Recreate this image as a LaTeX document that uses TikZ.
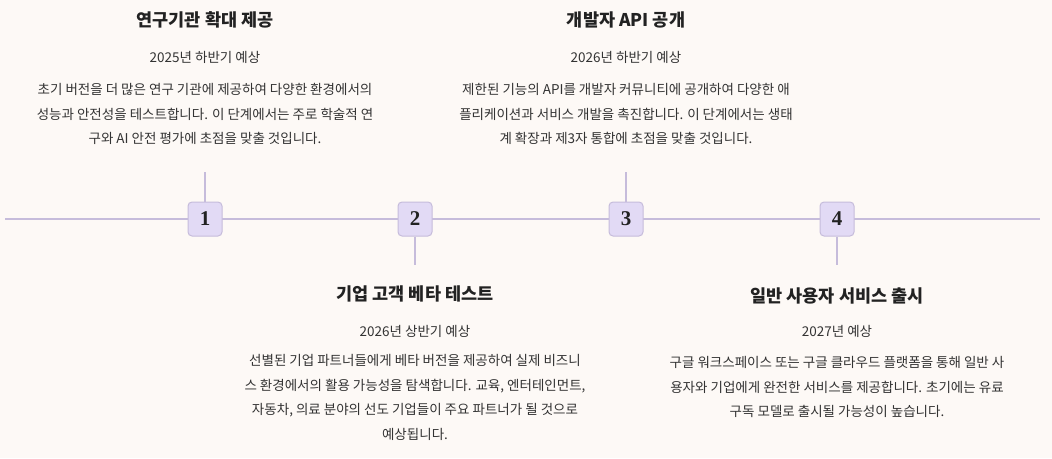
\documentclass[tikz,border=0pt]{standalone}
\usepackage{fontspec}
\setmainfont{Noto Sans CJK KR}
\newfontfamily\numfont{Liberation Serif}
\definecolor{bg}{HTML}{FDF9F6}
\definecolor{ln}{HTML}{C6BCDB}
\definecolor{bx}{HTML}{E2DAF5}
\definecolor{txt}{HTML}{222222}
\definecolor{sub}{HTML}{333333}
\begin{document}
\begin{tikzpicture}[x=1pt,y=-1pt,
  numbox/.style={draw=ln,fill=bx,rounded corners=4pt,minimum width=34pt,minimum height=34pt,line width=1pt,font=\numfont\bfseries\fontsize{21}{21}\selectfont,text=txt,inner sep=0pt},
  ttl/.style={font=\bfseries\fontsize{17.5}{20}\selectfont,text=txt,anchor=center},
  dt/.style={font=\fontsize{13.5}{16}\selectfont,text=sub,anchor=center},
  body/.style={font=\fontsize{13.5}{24.5}\selectfont,text=sub,align=center,anchor=north},
  lnk/.style={draw=ln,line width=1.5pt}]
\fill[bg] (0,0) rectangle (1052,458);
\useasboundingbox (0,0) rectangle (1052,458);
\coordinate (L) at (5,219);
\coordinate (R) at (1040,219);
\draw[lnk] (L) -- (R);
\node[numbox] (b1) at (205,219) {1};
\node[numbox] (b2) at (415,219) {2};
\node[numbox] (b3) at (626,219) {3};
\node[numbox] (b4) at (837,219) {4};
\coordinate (t1) at (205,172);
\coordinate (t2) at (415,265);
\coordinate (t3) at (626,172);
\coordinate (t4) at (837,265);
\draw[lnk] (b1.north) -- (t1);
\draw[lnk] (b2.south) -- (t2);
\draw[lnk] (b3.north) -- (t3);
\draw[lnk] (b4.south) -- (t4);
% item 1
\node[ttl] (h1) at (205,20) {연구기관 확대 제공};
\node[dt] (d1) at (205,57) {2025년 하반기 예상};
\node[body] (x1) at (205,80) {초기 버전을 더 많은 연구 기관에 제공하여 다양한 환경에서의\\성능과 안전성을 테스트합니다. 이 단계에서는 주로 학술적 연\\구와 AI 안전 평가에 초점을 맞출 것입니다.};
% item 3
\node[ttl] (h3) at (626,20) {개발자 API 공개};
\node[dt] (d3) at (626,57) {2026년 하반기 예상};
\node[body] (x3) at (626,80) {제한된 기능의 API를 개발자 커뮤니티에 공개하여 다양한 애\\플리케이션과 서비스 개발을 촉진합니다. 이 단계에서는 생태\\계 확장과 제3자 통합에 초점을 맞출 것입니다.};
% item 2
\node[ttl] (h2) at (415,294) {기업 고객 베타 테스트};
\node[dt] (d2) at (415,331) {2026년 상반기 예상};
\node[body] (x2) at (415,351) {선별된 기업 파트너들에게 베타 버전을 제공하여 실제 비즈니\\스 환경에서의 활용 가능성을 탐색합니다. 교육, 엔터테인먼트,\\자동차, 의료 분야의 선도 기업들이 주요 파트너가 될 것으로\\예상됩니다.};
% item 4
\node[ttl] (h4) at (837,296) {일반 사용자 서비스 출시};
\node[dt] (d4) at (837,331) {2027년 예상};
\node[body] (x4) at (837,353) {구글 워크스페이스 또는 구글 클라우드 플랫폼을 통해 일반 사\\용자와 기업에게 완전한 서비스를 제공합니다. 초기에는 유료\\구독 모델로 출시될 가능성이 높습니다.};
\end{tikzpicture}
\end{document}
